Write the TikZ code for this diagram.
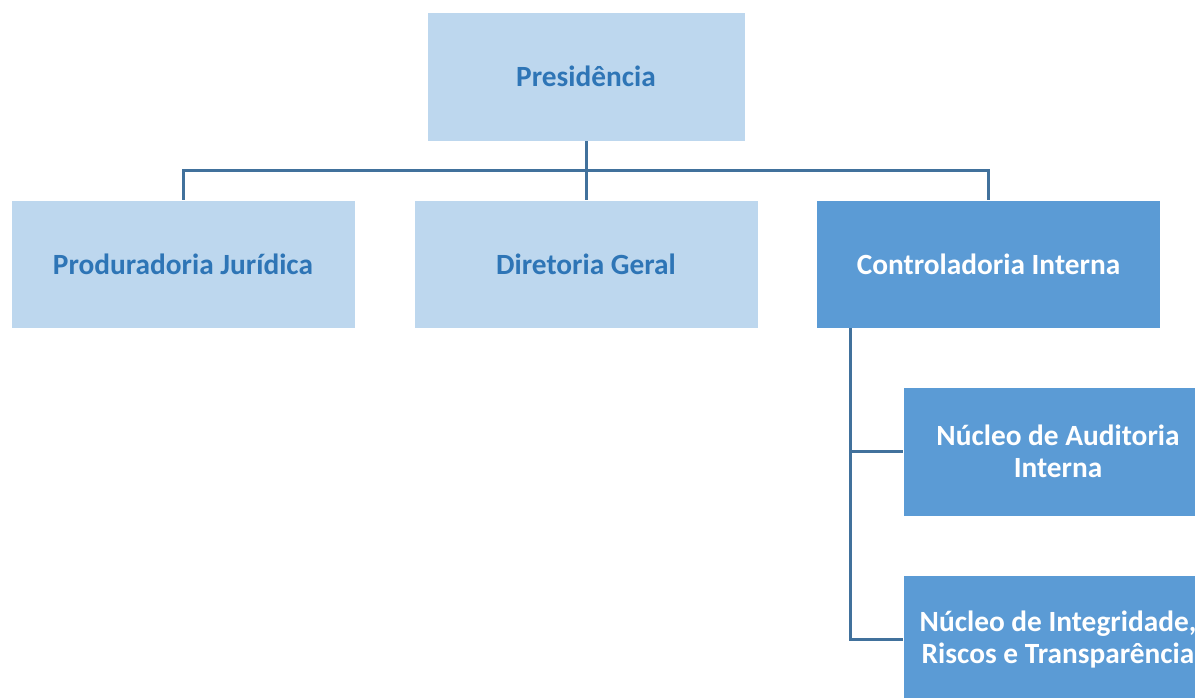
\documentclass[tikz,border=0pt]{standalone}
\usepackage{fontspec}
\setmainfont{Carlito}
\usetikzlibrary{positioning}
\definecolor{boxlight}{HTML}{BDD7EE}
\definecolor{boxdark}{HTML}{5B9BD5}
\definecolor{textblue}{HTML}{2E75B6}
\definecolor{linkblue}{HTML}{41719C}

\begin{document}
\begin{tikzpicture}[x=0.75pt,y=0.75pt,yscale=-1,xscale=1,
  orgbox/.style={rectangle, draw=white, line width=0.5pt, minimum width=258pt, minimum height=96pt, inner sep=2pt, align=center, font=\fontsize{22}{24}\selectfont\bfseries},
  lightbox/.style={orgbox, fill=boxlight, text=textblue},
  darkbox/.style={orgbox, fill=boxdark, text=white},
  link/.style={draw=linkblue, line width=2.25pt}]
\clip (0,0) rectangle (1195,697);
\fill[white] (0,0) rectangle (1195,697);

% Top level
\node[lightbox, minimum width=238.5pt, minimum height=96.75pt] (pres) at (586,76.5) {Presidência};

% Second level
\node[lightbox] (proc) at (183,264) {Produradoria Jurídica};
\node[lightbox] (dir) at (586,264) {Diretoria Geral};
\node[darkbox] (ctrl) at (988.5,264) {Controladoria Interna};

% Third level
\node[darkbox, minimum width=232.5pt, minimum height=96.75pt] (aud) at (1058,451.5) {Núcleo de Auditoria\\Interna};
\node[darkbox, minimum width=232.5pt, minimum height=96.75pt] (integ) at (1058,639.5) {Núcleo de Integridade,\\Riscos e Transparência};

% Connectors
\coordinate (bus) at (586,170);
\draw[link] (pres.south) -- (dir.north);
\draw[link] (proc.north) |- (bus) -| (ctrl.north);
\draw[link] (ctrl.south west) ++(34,0) |- (aud.west);
\draw[link] (ctrl.south west) ++(34,0) |- (integ.west);

\end{tikzpicture}
\end{document}
